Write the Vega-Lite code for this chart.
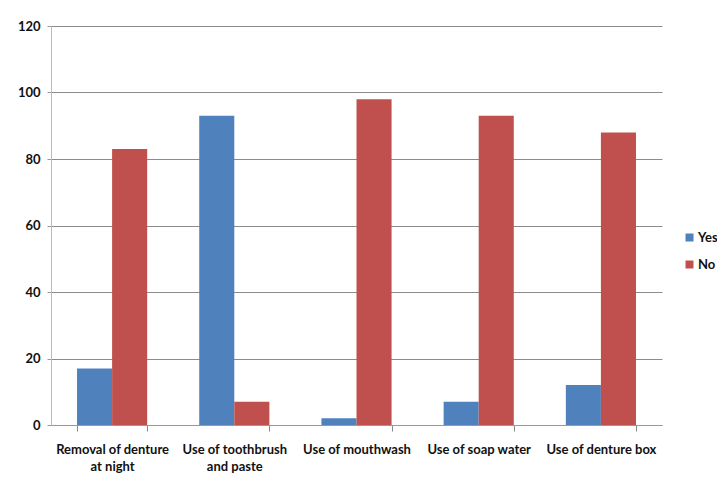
{
  "$schema": "https://vega.github.io/schema/vega-lite/v6.json",
  "width": 611,
  "height": 399,
  "autosize": {"type": "none"},
  "padding": {"left": 51, "top": 26, "right": 55, "bottom": 52},
  "background": "#ffffff",
  "data": {
    "values": [
      {"practice": "Removal of denture at night", "response": "Yes", "value": 17},
      {"practice": "Removal of denture at night", "response": "No", "value": 83},
      {"practice": "Use of toothbrush and paste", "response": "Yes", "value": 93},
      {"practice": "Use of toothbrush and paste", "response": "No", "value": 7},
      {"practice": "Use of mouthwash", "response": "Yes", "value": 2},
      {"practice": "Use of mouthwash", "response": "No", "value": 98},
      {"practice": "Use of soap water", "response": "Yes", "value": 7},
      {"practice": "Use of soap water", "response": "No", "value": 93},
      {"practice": "Use of denture box", "response": "Yes", "value": 12},
      {"practice": "Use of denture box", "response": "No", "value": 88}
    ]
  },
  "mark": {"type": "bar"},
  "encoding": {
    "x": {
      "field": "practice",
      "type": "nominal",
      "sort": null,
      "title": null,
      "scale": {"paddingInner": 0.426, "paddingOuter": 0.213},
      "axis": {
        "labelAngle": 0,
        "labelFont": "Lato",
        "labelFontWeight": "bold",
        "labelFontSize": 13,
        "labelColor": "#111111",
        "labelLineHeight": 17,
        "labelPadding": 12,
        "ticks": true,
        "tickBand": "extent",
        "tickExtra": true,
        "tickSize": 6,
        "tickWidth": 1,
        "tickOpacity": 1,
        "tickColor": "#888888",
        "domainColor": "#999999",
        "labelExpr": "datum.label == 'Removal of denture at night' ? ['Removal of denture', 'at night'] : datum.label == 'Use of toothbrush and paste' ? ['Use of toothbrush', 'and paste'] : datum.label"
      }
    },
    "xOffset": {"field": "response", "sort": ["Yes", "No"]},
    "y": {
      "field": "value",
      "type": "quantitative",
      "title": null,
      "scale": {"domain": [0, 120]},
      "axis": {
        "values": [0, 20, 40, 60, 80, 100, 120],
        "labelFont": "Lato",
        "labelFontWeight": "bold",
        "labelFontSize": 13,
        "labelColor": "#111111",
        "labelPadding": 7,
        "tickSize": 4,
        "tickColor": "#999999",
        "domainColor": "#bbbbbb",
        "gridColor": "#8c8c8c",
        "gridWidth": 1
      }
    },
    "color": {
      "field": "response",
      "type": "nominal",
      "sort": ["Yes", "No"],
      "title": null,
      "scale": {"domain": ["Yes", "No"], "range": ["#4F81BD", "#C0504D"]},
      "legend": {
        "orient": "none",
        "legendX": 632,
        "legendY": 205,
        "symbolType": "square",
        "symbolSize": 64,
        "symbolStrokeWidth": 0,
        "rowPadding": 13,
        "labelFont": "Lato",
        "labelFontWeight": "bold",
        "labelFontSize": 13,
        "labelColor": "#111111",
        "labelOffset": 2
      }
    }
  },
  "config": {"view": {"stroke": null}}
}
